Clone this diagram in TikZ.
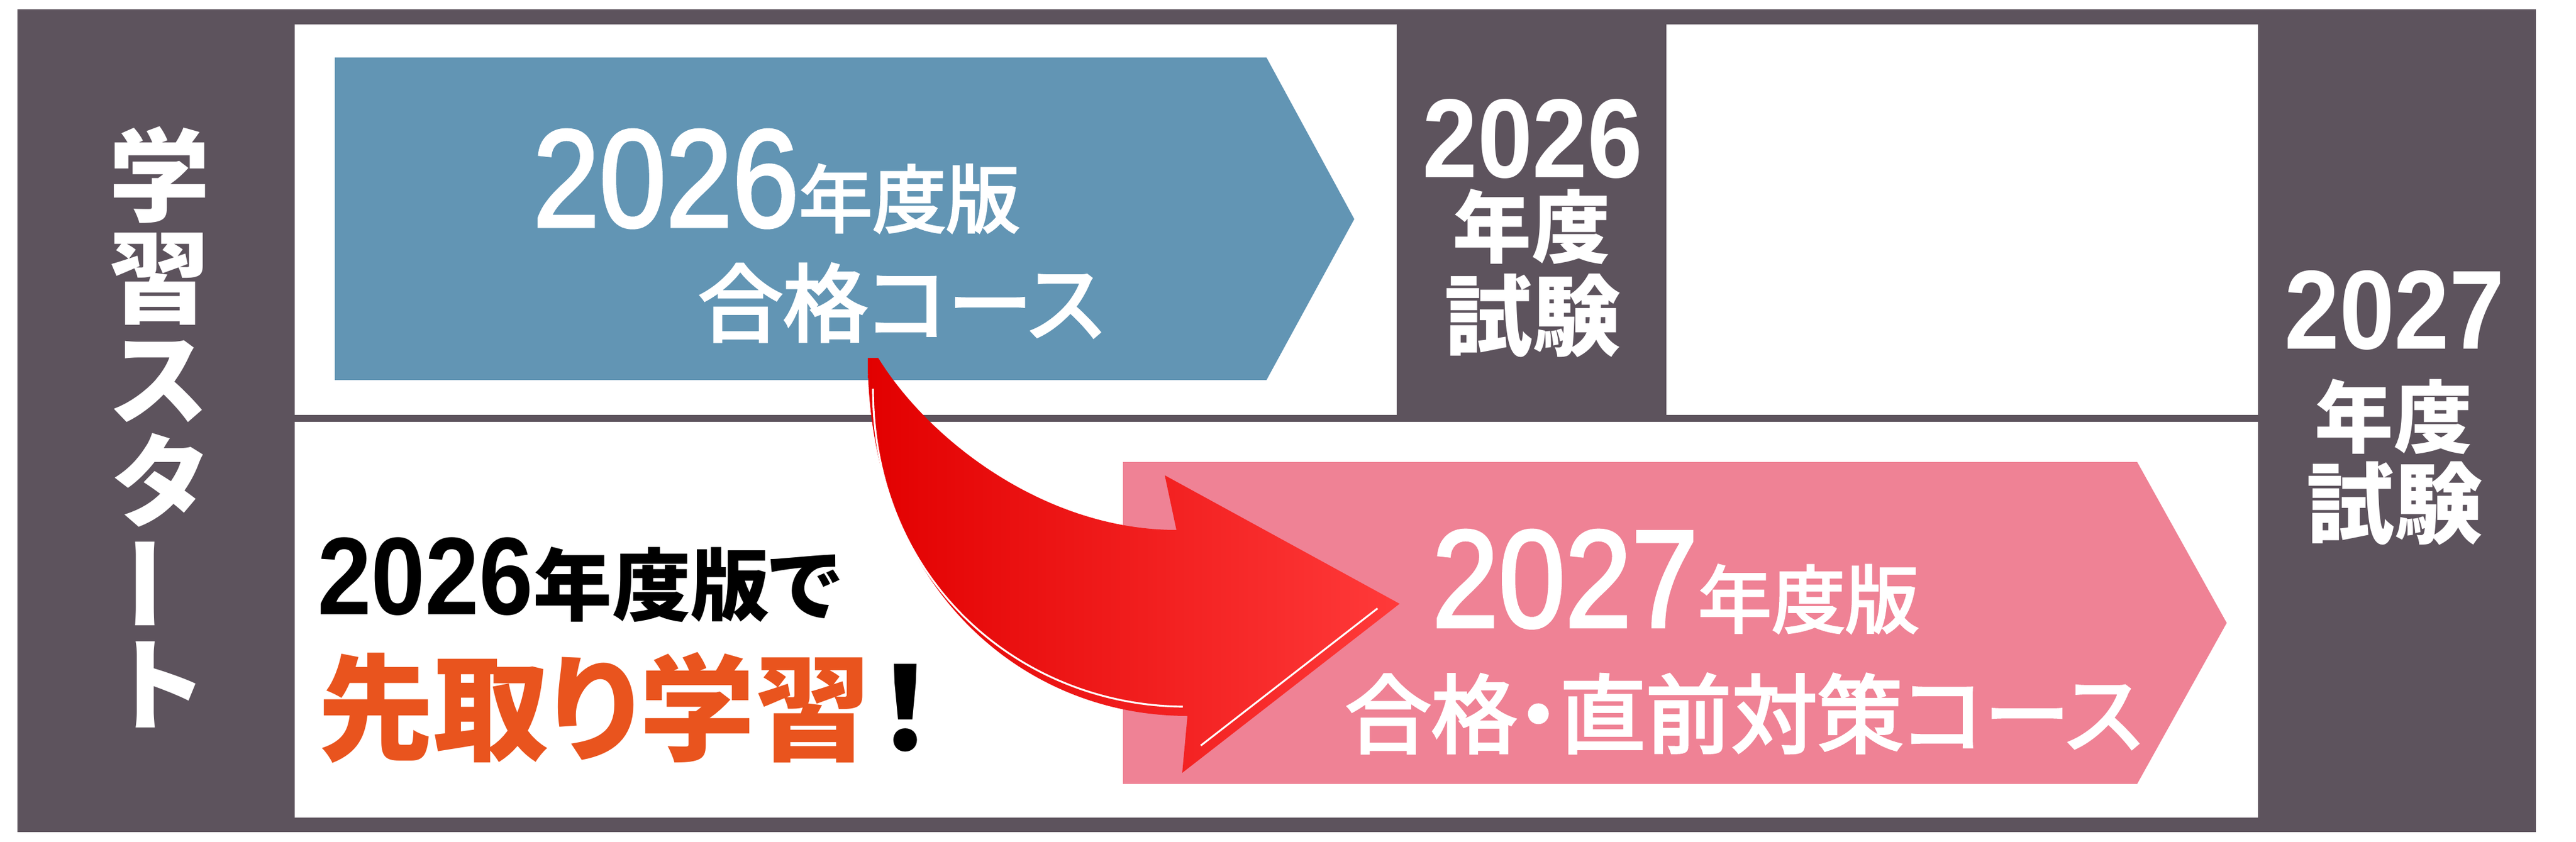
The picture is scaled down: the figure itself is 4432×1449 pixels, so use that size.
\documentclass[tikz,border=0pt]{standalone}
\usepackage{fontspec}
\setmainfont{Noto Sans CJK JP}[RawFeature=+palt]
\newfontfamily\medfont{Noto Sans CJK JP}[RawFeature=+palt, FakeBold=3]
\newfontfamily\numfont{Liberation Sans}[FakeStretch=0.88]
\newfontfamily\nummedfont{Liberation Sans}[FakeStretch=0.86, FakeBold=2]
\usetikzlibrary{positioning, calc}
\definecolor{framecolor}{RGB}{93,83,93}
\definecolor{blueroute}{RGB}{98,149,180}
\definecolor{pinkroute}{RGB}{239,130,149}
\definecolor{orangetext}{RGB}{233,84,30}
\definecolor{arrowdark}{RGB}{226,0,0}
\definecolor{arrowlight}{RGB}{255,58,58}

\begin{document}
\begin{tikzpicture}[
    x=0.01cm, y=-0.01cm,
    panel/.style={fill=white},
    txt/.style={inner sep=0pt, outer sep=0pt, text=white},
    year/.style={txt, font=\nummedfont\fontsize{68}{68}\selectfont},
    yearbold/.style={txt, font=\numfont\bfseries\fontsize{55}{55}\selectfont, text height=39.5pt, text depth=0pt},
    kanji/.style={txt, font=\medfont\fontsize{#1}{#1}\selectfont},
    kanjibold/.style={txt, font=\bfseries\fontsize{#1}{#1}\selectfont}
]
    \useasboundingbox (0,0) rectangle (4432,1449);
    \fill[white] (0,0) rectangle (4432,1449);

    % Frame and panels
    \fill[framecolor] (30,16) rectangle (4363,1432);
    \fill[panel] (507,42) rectangle (2403,714);
    \fill[panel] (2867,42) rectangle (3885,714);
    \fill[panel] (507,726) rectangle (3885,1407);

    % Courses
    \fill[blueroute] (576,99) -- (2179,99) -- (2330,377) -- (2179,654) -- (576,654) -- cycle;
    \fill[pinkroute] (1932,795) -- (3677,795) -- (3831,1072) -- (3677,1349) -- (1932,1349) -- cycle;

    % Start column
    \node[txt, font=\bfseries\fontsize{49.5}{49.8}\selectfont, align=center] (start) at (275,735)
        {学\\習\\ス\\タ\\\raisebox{-0.12em}{\rotatebox{90}{ー}}\\ト};

    % 2026 course
    \node[year, anchor=base west] (year26) at (917,390) {2026};
    \node[kanji=36, anchor=base west] (ed26) at (year26.base east) {年度版};
    \node[kanji=41.5] (course26) at (1550,521) {合格コース};

    % Exams
    \node[yearbold] (exam26) at (2637,236) {2026};
    \node[kanjibold=38.5] (exam26y) at (2635,390) {年度};
    \node[kanjibold=43] (exam26t) at (2637,543) {試験};
    \node[yearbold] (exam27) at (4120,531) {2027};
    \node[kanjibold=38.5] (exam27y) at (4118,717) {年度};
    \node[kanjibold=43] (exam27t) at (4120,866) {試験};

    % 2027 course
    \node[year, anchor=base west] (year27) at (2464,1079) {2027};
    \node[kanji=36, anchor=base west] (ed27) at (year27.base east) {年度版};
    \node[kanji=42] (course27) at (3000,1228) {合格・直前対策コース};

    % Lead text
    \node[txt, text=black, font=\numfont\bfseries\fontsize{54}{54}\selectfont, anchor=base west] (lead26) at (546,1057) {2026};
    \node[kanjibold=38.5, text=black, anchor=base west] (leaded) at (lead26.base east) {年度版で};
    \node[kanjibold=56.5, text=orangetext, anchor=west] (lead) at (547,1218) {先取り学習};
    \node[kanjibold=56.5, text=black, right=1mm of lead] (bang) {！};

    % Curved arrow
    \coordinate (tail) at (1502,616);
    \coordinate (tip) at (2408,1039);
    \shade[left color=arrowdark, right color=arrowlight]
        (1511,616) .. controls (1600,760) and (1800,912) .. (2024,912)
        -- (2004,818) -- (tip) -- (2034,1330) -- (2043,1232)
        .. controls (1750,1232) and (1493,1000) .. (1493,616) -- cycle;
    \draw[white, line width=0.9pt] (1502,669) .. controls (1502,1005) and (1760,1214) .. (2035,1216);
    \draw[white, line width=0.9pt] (2066,1283) -- (2370,1047);
\end{tikzpicture}
\end{document}
